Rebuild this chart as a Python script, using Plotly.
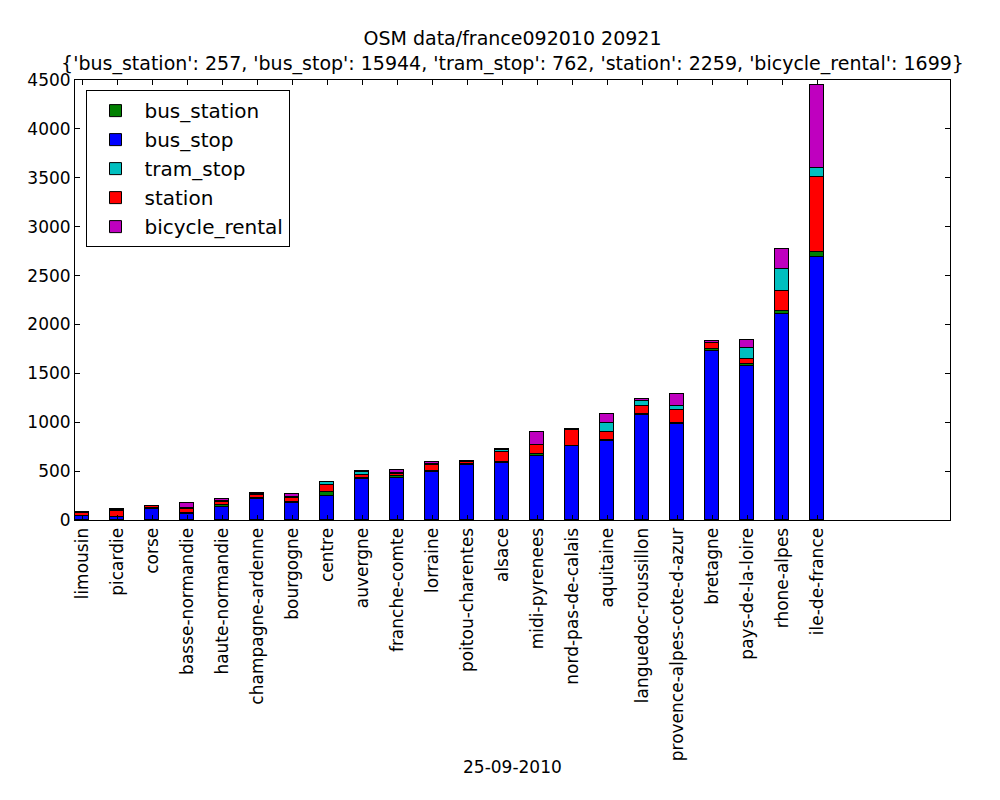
import plotly.graph_objects as go

regions = ["limousin", "picardie", "corse", "basse-normandie", "haute-normandie",
           "champagne-ardenne", "bourgogne", "centre", "auvergne", "franche-comte",
           "lorraine", "poitou-charentes", "alsace", "midi-pyrenees", "nord-pas-de-calais",
           "aquitaine", "languedoc-roussillon", "provence-alpes-cote-d-azur", "bretagne",
           "pays-de-la-loire", "rhone-alpes", "ile-de-france"]

bus_stop = [40, 30, 112, 58, 136, 218, 177, 249, 416, 433, 490, 560, 588, 657, 755,
            805, 1075, 980, 1725, 1580, 2110, 2690]
bus_station = [5, 5, 8, 13, 18, 6, 8, 35, 10, 12, 10, 15, 10, 15, 5,
               15, 10, 10, 24, 17, 27, 47]
station = [25, 55, 20, 38, 30, 30, 41, 70, 38, 27, 58, 20, 95, 90, 158,
           82, 78, 139, 61, 51, 201, 767]
tram_stop = [3, 10, 2, 17, 10, 8, 6, 30, 30, 9, 10, 5, 25, 5, 5,
             90, 55, 41, 3, 109, 232, 92]
bicycle_rental = [5, 12, 5, 51, 21, 14, 34, 8, 7, 30, 25, 7, 8, 133, 11,
                  88, 20, 116, 17, 86, 201, 856]

title_line1 = "OSM data/france092010 20921"
title_line2 = "{'bus_station': 257, 'bus_stop': 15944, 'tram_stop': 762, 'station': 2259, 'bicycle_rental': 1699}"
xlabel = "25-09-2010"

bar_width = 0.4
xpos = [i + bar_width / 2 for i in range(len(regions))]

# stacking order (bottom to top) with legend rank
series = [
    ("bus_stop", bus_stop, "#0000ff", 2),
    ("bus_station", bus_station, "#008000", 1),
    ("station", station, "#ff0000", 4),
    ("tram_stop", tram_stop, "#00bfbf", 3),
    ("bicycle_rental", bicycle_rental, "#bf00bf", 5),
]

fig = go.Figure()
for name, vals, color, rank in series:
    fig.add_trace(go.Bar(
        x=xpos, y=vals, name=name, width=bar_width,
        marker=dict(color=color, line=dict(color="black", width=1)),
        legendrank=rank,
    ))

font_family = "DejaVu Sans"
fig.update_layout(
    barmode="stack",
    width=1000, height=800,
    margin=dict(l=67, r=58, t=72, b=288, autoexpand=False),
    paper_bgcolor="white", plot_bgcolor="white",
    font=dict(family=font_family, color="black", size=17),
    title=dict(
        text=title_line1 + "<br>" + title_line2,
        x=(512.5 - 8) / 1000, xanchor="center", xref="container",
        y=1 - 37 / 800, yanchor="middle", yref="container",
        font=dict(size=19, family=font_family, color="black"),
    ),
    legend=dict(
        x=0.012, y=0.977, xanchor="left", yanchor="top",
        bgcolor="white", bordercolor="black", borderwidth=1,
        font=dict(size=20, family=font_family, color="black"),
        traceorder="normal", itemwidth=48,
    ),
    showlegend=True,
    bargap=0,
)

fig.update_xaxes(
    range=[0, 25],
    tickmode="array", tickvals=xpos, ticktext=regions,
    tickangle=-90,
    ticks="inside", ticklen=5, tickcolor="black",
    showline=True, linecolor="black", linewidth=1, mirror="allticks",
    showgrid=False, zeroline=False, automargin=False,
    tickfont=dict(size=17, family=font_family, color="black"),
)
fig.update_yaxes(
    range=[0, 4500],
    tickmode="linear", tick0=0, dtick=500,
    ticks="inside", ticklen=5, tickcolor="black",
    showline=True, linecolor="black", linewidth=1, mirror="allticks",
    showgrid=False, zeroline=False, automargin=False,
    tickfont=dict(size=17, family=font_family, color="black"),
)

fig.add_annotation(
    text=xlabel, xref="paper", yref="paper",
    x=0.5, y=(520 - 767) / 440, xanchor="center", yanchor="middle",
    showarrow=False, font=dict(size=17, family=font_family, color="black"),
)

fig.write_html("out.html")
